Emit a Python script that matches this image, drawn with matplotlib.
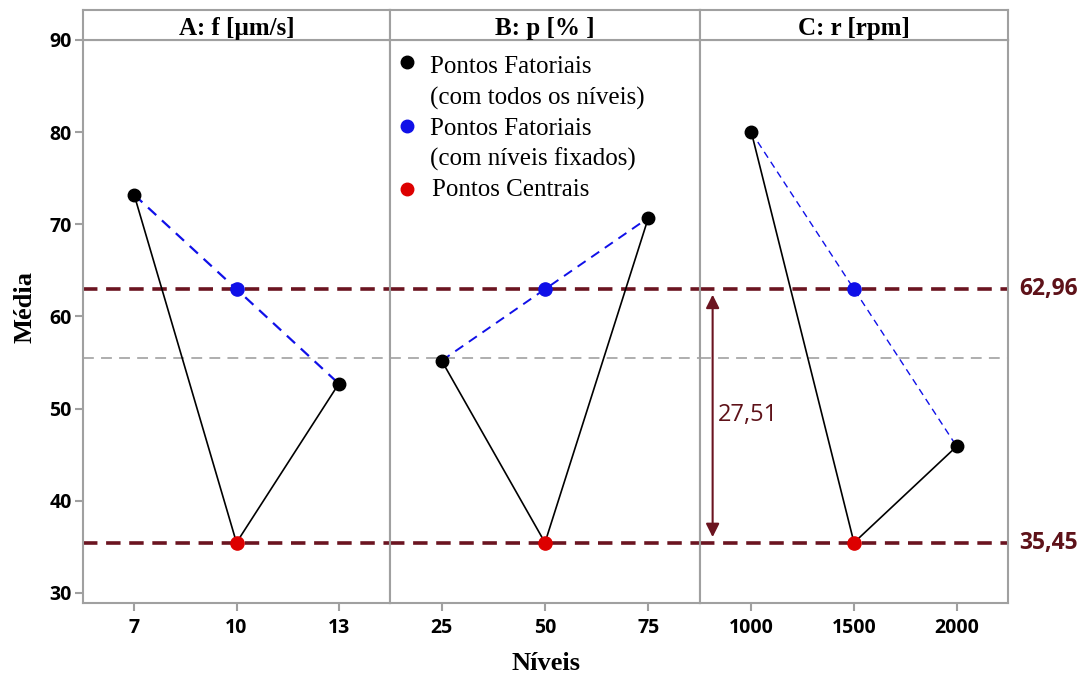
import matplotlib
matplotlib.use("Agg")
import matplotlib.pyplot as plt

# ---- data ----
titles = ["A: f [µm/s]", "B: p [% ]", "C: r [rpm]"]
levels_A = [7, 10, 13]
levels_B = [25, 50, 75]
levels_C = [1000, 1500, 2000]
factorial_A = [73.2, 52.7]   # low, high level means
factorial_B = [55.2, 70.7]
factorial_C = [80.0, 45.9]
fixed_mean = 62.96           # factorial points with fixed levels
center_mean = 35.45          # central points
grand_mean = 55.5
difference_label = "27,51"
yticks = [30, 40, 50, 60, 70, 80, 90]

legend_labels = [["Pontos Fatoriais", "(com todos os níveis)"],
                 ["Pontos Fatoriais", "(com níveis fixados)"],
                 ["Pontos Centrais"]]

levels = [levels_A, levels_B, levels_C]
factorials = [factorial_A, factorial_B, factorial_C]
blue_lw = [1.6, 1.4, 1.0]

W, H = 1087, 680
fig = plt.figure(figsize=(W / 100, H / 100), dpi=100)

GRAY = "#a0a0a0"
MAROON = "#6b1420"
MAROON_T = "#5e1219"
BLUE = "#1010e8"
RED = "#dd0000"

edges = [83, 390, 700, 1008]
top_px, bot_px = 40, 603
head_top = 10

serif = "Liberation Serif"
tickfont = dict(family="Open Sans", weight="bold", size=14)

axes = []
for i in range(3):
    l = edges[i] / W
    w = (edges[i + 1] - edges[i]) / W
    ax = fig.add_axes([l, 1 - bot_px / H, w, (bot_px - top_px) / H])
    axes.append(ax)
    lv = levels[i]
    fa = factorials[i]
    step = lv[1] - lv[0]
    ax.set_xlim(lv[0] - step / 2, lv[2] + step / 2)
    ax.set_ylim(28.9, 90)

    # reference lines
    ax.axhline(grand_mean, color="#a8a8a8", lw=1.3, dashes=(6, 4), zorder=1)
    ax.axhline(fixed_mean, color=MAROON, lw=2.6, dashes=(4, 2.4), zorder=2)
    ax.axhline(center_mean, color=MAROON, lw=2.6, dashes=(4, 2.4), zorder=2)

    # black solid: low -> center -> high
    ax.plot(lv, [fa[0], center_mean, fa[1]], color="black", lw=1.2, zorder=3)
    # blue dashed: low -> fixed mean -> high
    ax.plot(lv, [fa[0], fixed_mean, fa[1]], color=BLUE, lw=blue_lw[i],
            dashes=(5, 3.5), zorder=3)
    ax.plot([lv[0], lv[2]], fa, "o", color="black", ms=9, zorder=5)
    ax.plot([lv[1]], [fixed_mean], "o", color=BLUE, ms=9.5, zorder=5)
    ax.plot([lv[1]], [center_mean], "o", color=RED, ms=9.5, zorder=5)

    ax.set_xticks(lv)
    ax.set_xticklabels([str(v) for v in lv], fontdict=tickfont)
    ax.tick_params(axis="x", length=6, width=1.5, color=GRAY, pad=5)
    if i == 0:
        ax.set_yticks(yticks)
        ax.set_yticklabels([str(v) for v in yticks], fontdict=tickfont)
        ax.tick_params(axis="y", length=6, width=1.5, color=GRAY, pad=2)
    else:
        ax.set_yticks([])
    for s in ax.spines.values():
        s.set_color(GRAY)
        s.set_linewidth(1.5)

    # header strip
    hx = fig.add_axes([l, 1 - top_px / H, w, (top_px - head_top) / H])
    hx.set_xticks([]); hx.set_yticks([])
    for s in hx.spines.values():
        s.set_color(GRAY)
        s.set_linewidth(1.5)
    hx.text(0.5, 0.4, titles[i], ha="center", va="center", family=serif,
            weight="bold", fontsize=18, transform=hx.transAxes)

# legend drawn in panel B
axB = axes[1]
def fy(px):
    return (bot_px - px) / (bot_px - top_px)
lx0 = (407 - 390) / 310
tx0 = (430 - 390) / 310
marker_y = [62, 126, 189]
line_y = [[67, 98], [129, 159], [190]]
colors = ["black", BLUE, RED]
for c, my, labs, ly in zip(colors, marker_y, legend_labels, line_y):
    axB.plot([lx0], [fy(my)], "o", color=c, ms=9, transform=axB.transAxes,
             clip_on=False, zorder=6)
    for j, (t, y) in enumerate(zip(labs, ly)):
        axB.text(tx0 + (0.008 if len(labs) == 1 else 0), fy(y), t,
                 transform=axB.transAxes, ha="left", va="center",
                 family=serif, fontsize=18)

# annotations on panel C
axC = axes[2]
tr = axC.get_yaxis_transform()
axC.annotate("", xy=(0.041, center_mean + 0.6), xytext=(0.041, fixed_mean - 0.6),
             xycoords=tr, textcoords=tr,
             arrowprops=dict(arrowstyle="<|-|>", color=MAROON, lw=1.5,
                             mutation_scale=20, shrinkA=0, shrinkB=0))
axC.text(0.058, 49.3, difference_label, transform=tr, ha="left", va="center",
         family="Open Sans", fontsize=17, color=MAROON_T)
axC.text(1.036, fixed_mean, "62,96", transform=tr, ha="left", va="center",
         family="Open Sans", weight="bold", fontsize=16.5, color=MAROON_T,
         clip_on=False)
axC.text(1.036, center_mean, "35,45", transform=tr, ha="left", va="center",
         family="Open Sans", weight="bold", fontsize=16.5, color=MAROON_T,
         clip_on=False)

fig.text(25 / W, 1 - 307 / H, "Média", rotation=90, ha="center", va="center",
         family=serif, weight="bold", fontsize=19)
fig.text(546 / W, 1 - 663 / H, "Níveis", ha="center", va="center",
         family=serif, weight="bold", fontsize=19)

fig.savefig("out.png", dpi=100)
